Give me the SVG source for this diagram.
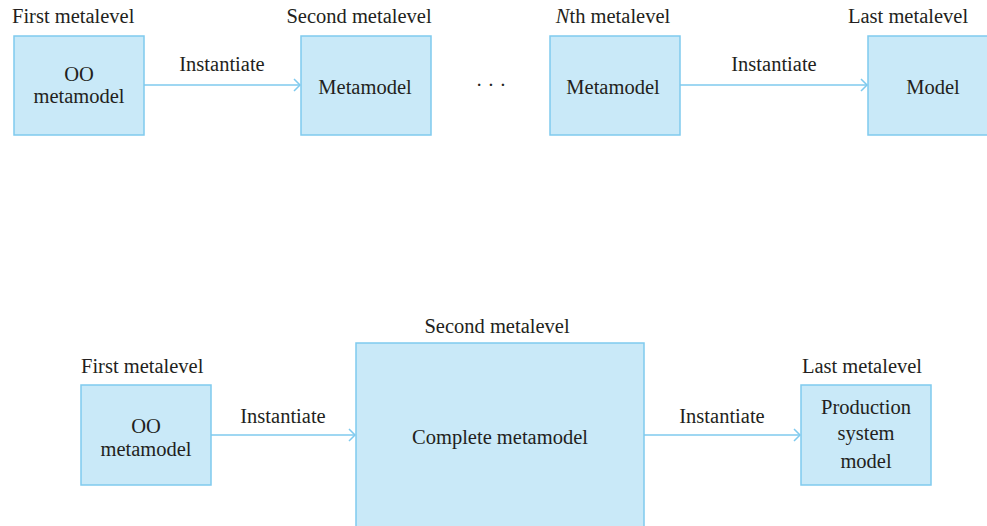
<svg xmlns="http://www.w3.org/2000/svg" width="987" height="526" viewBox="0 0 987 526">
<defs>
<style>
.box{fill:#c9e9f8;stroke:#7fcaee;stroke-width:1.5}
.t{font-family:"Liberation Serif",serif;font-size:20.5px;fill:#231f20;text-anchor:middle}
.l{font-family:"Liberation Serif",serif;font-size:20.5px;fill:#231f20}
.c{stroke:#7fcaee;stroke-width:1.5;fill:none}
</style>
<marker id="arr" markerWidth="12" markerHeight="14" refX="10" refY="7" orient="auto" markerUnits="userSpaceOnUse">
<path d="M4,1 L10,7 L4,13" fill="none" stroke="#7fcaee" stroke-width="1.5"/>
</marker>
</defs>
<rect width="987" height="526" fill="#fff"/>
<g id="connectors">
<line class="c" x1="144" y1="85" x2="300" y2="85" marker-end="url(#arr)"/>
<line class="c" x1="680" y1="85" x2="867" y2="85" marker-end="url(#arr)"/>
<line class="c" x1="211" y1="435" x2="355" y2="435" marker-end="url(#arr)"/>
<line class="c" x1="644" y1="435" x2="800" y2="435" marker-end="url(#arr)"/>
<text class="t" x="222" y="71">Instantiate</text>
<text class="t" x="774" y="71">Instantiate</text>
<text class="t" x="283" y="423">Instantiate</text>
<text class="t" x="722" y="423">Instantiate</text>
</g>
<g id="top-first">
<text class="l" x="12" y="23">First metalevel</text>
<rect class="box" x="14" y="36" width="130" height="99"/>
<text class="t" x="79" y="81">OO</text>
<text class="t" x="79" y="103">metamodel</text>
</g>
<g id="top-second">
<text class="t" x="359" y="23">Second metalevel</text>
<rect class="box" x="301" y="36" width="130" height="99"/>
<text class="t" x="365" y="94">Metamodel</text>
</g>
<g id="dots">
<text class="t" x="491" y="92">· · ·</text>
</g>
<g id="top-nth">
<text class="t" x="613" y="23"><tspan font-style="italic">N</tspan>th metalevel</text>
<rect class="box" x="550" y="36" width="130" height="99"/>
<text class="t" x="613" y="94">Metamodel</text>
</g>
<g id="top-last">
<text class="l" x="848" y="23">Last metalevel</text>
<rect class="box" x="868" y="36" width="130" height="99"/>
<text class="t" x="933" y="94">Model</text>
</g>
<g id="bot-first">
<text class="l" x="81" y="373">First metalevel</text>
<rect class="box" x="81" y="385" width="130" height="100"/>
<text class="t" x="146" y="433">OO</text>
<text class="t" x="146" y="456">metamodel</text>
</g>
<g id="bot-second">
<text class="t" x="497" y="333">Second metalevel</text>
<rect class="box" x="356" y="343" width="288" height="190"/>
<text class="t" x="500" y="444">Complete metamodel</text>
</g>
<g id="bot-last">
<text class="t" x="862" y="373">Last metalevel</text>
<rect class="box" x="801" y="385" width="130" height="100"/>
<text class="t" x="866" y="414">Production</text>
<text class="t" x="866" y="440">system</text>
<text class="t" x="866" y="468">model</text>
</g>
</svg>
